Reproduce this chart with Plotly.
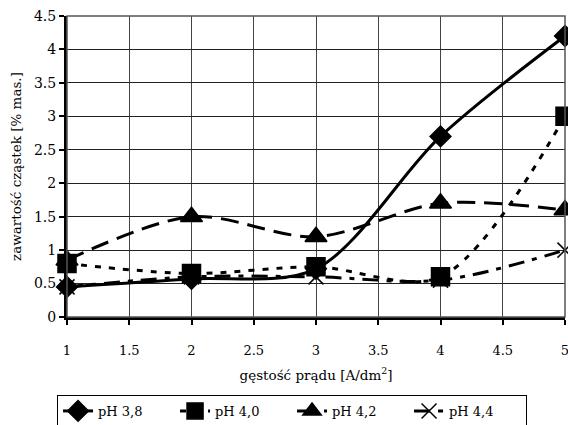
import plotly.graph_objects as go

x_vals = [1, 2, 3, 4, 5]
ph38 = [0.45, 0.57, 0.72, 2.7, 4.2]
ph40 = [0.8, 0.65, 0.75, 0.6, 3.0]
ph42 = [0.85, 1.5, 1.2, 1.7, 1.6]
ph44 = [0.45, 0.6, 0.6, 0.55, 1.0]
names = ["pH 3,8", "pH 4,0", "pH 4,2", "pH 4,4"]
x_ticks = [1, 1.5, 2, 2.5, 3, 3.5, 4, 4.5, 5]
y_ticks = [0, 0.5, 1, 1.5, 2, 2.5, 3, 3.5, 4, 4.5]

FONT = "DejaVu Serif"

fig = go.Figure()
series = [
    (ph38, names[0], "solid", "diamond", 16),
    (ph40, names[1], "6px,8px", "square", 18),
    (ph42, names[2], "18px,9px", "triangle-up", 19),
    (ph44, names[3], "16px,8px,5px,8px", "x-thin", 15),
]
for ys, nm, dash, sym, sz in series:
    fig.add_trace(go.Scatter(
        x=x_vals, y=ys, name=nm, mode="lines+markers",
        line=dict(color="black", width=3, dash=dash, shape="spline", smoothing=0.9),
        marker=dict(symbol=sym, size=sz, color="black",
                    line=dict(color="black", width=1.5)),
        cliponaxis=False,
    ))

fig.update_layout(
    width=568, height=425,
    margin=dict(l=67, r=3, t=16, b=108, autoexpand=False),
    paper_bgcolor="white", plot_bgcolor="white",
    font=dict(family=FONT, size=14, color="black"),
    showlegend=True,
    legend=dict(orientation="h", x=-0.02, xanchor="left", y=-0.259, yanchor="top",
                bordercolor="black", borderwidth=1, font=dict(size=13, family=FONT),
                entrywidth=72, entrywidthmode="pixels", tracegroupgap=0),
    shapes=[dict(type="rect", xref="paper", yref="paper", x0=0, y0=0, x1=1, y1=1,
                 line=dict(color="#555555", width=1.5), layer="above")],
)
fig.update_xaxes(
    range=[1, 5], tickvals=x_ticks, ticktext=[f"{v:g}" for v in x_ticks],
    showgrid=True, gridcolor="#444444", gridwidth=1,
    showline=True, linecolor="black", linewidth=3,
    ticks="outside", ticklen=5, tickwidth=2, tickcolor="black",
    ticklabelstandoff=14, ticklabeloverflow="allow", zeroline=False,
    title=dict(text="gęstość prądu [A/dm<sup>2</sup>]", font=dict(size=13.5, family=FONT), standoff=14),
    tickfont=dict(size=13, family=FONT),
)
fig.update_yaxes(
    range=[0, 4.5], tickvals=y_ticks, ticktext=[f"{v:g}" for v in y_ticks],
    showgrid=True, gridcolor="#222222", gridwidth=1,
    showline=True, linecolor="black", linewidth=3,
    ticks="outside", ticklen=5, tickwidth=2, tickcolor="black",
    zeroline=False,
    title=dict(text="zawartość cząstek [% mas.]", font=dict(size=13.5, family=FONT), standoff=10),
    tickfont=dict(size=14, family=FONT),
)

fig.write_html("out.html")
